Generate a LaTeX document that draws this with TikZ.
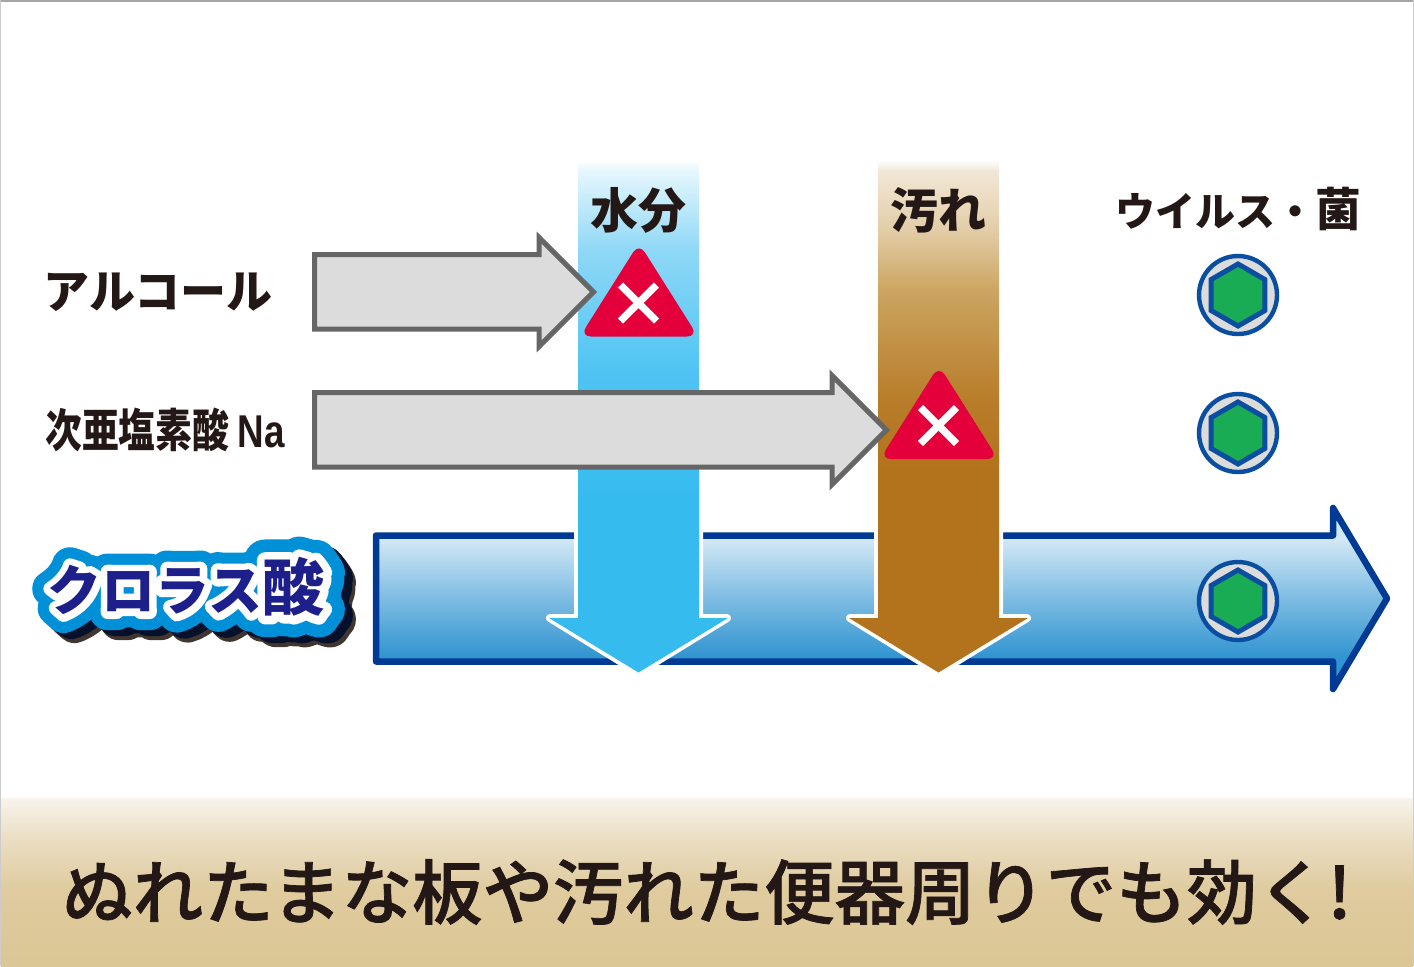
\documentclass[tikz,border=0pt]{standalone}
\usepackage{fontspec}
\usetikzlibrary{shapes.geometric}
\newfontfamily\jpfont{Noto Sans CJK JP}
\newfontfamily\jpmedium[FakeBold=1]{Noto Sans CJK JP Medium}
\newfontfamily\latinfont{Liberation Sans}
\newfontfamily\logoface{Noto Sans CJK JP Black}
\newfontfamily\logowhite[FakeBold=26]{Noto Sans CJK JP Black}
\newfontfamily\logoblue[FakeBold=67]{Noto Sans CJK JP Black}
\definecolor{inkdark}{HTML}{231815}
\definecolor{greyline}{HTML}{666666}
\definecolor{greyfill}{HTML}{DCDCDC}
\definecolor{blueline}{HTML}{003A94}
\definecolor{ringblue}{HTML}{0A4EA2}
\definecolor{hexgreen}{HTML}{19AC54}
\definecolor{markred}{HTML}{E4003A}
\definecolor{logonavy}{HTML}{1D1F8A}
\definecolor{logocyan}{HTML}{0090D8}
\definecolor{shadownavy}{HTML}{05102A}
\definecolor{shadowbrown}{HTML}{40352F}
\definecolor{watera}{HTML}{E6F7FD}
\definecolor{waterb}{HTML}{8FD8F7}
\definecolor{waterc}{HTML}{50C4F3}
\definecolor{waterd}{HTML}{36BBEF}
\definecolor{dirta}{HTML}{F2E8D8}
\definecolor{dirtb}{HTML}{E3CDA8}
\definecolor{dirtc}{HTML}{CCA561}
\definecolor{dirtd}{HTML}{B87D2A}
\definecolor{dirte}{HTML}{B3731C}
\definecolor{banda}{HTML}{F8F4EC}
\definecolor{bandb}{HTML}{EADDC2}
\definecolor{bandc}{HTML}{DFCB9E}
\definecolor{bandd}{HTML}{DBC695}
\pgfdeclareverticalshading{waterfade}{100bp}{color(0bp)=(waterd); color(41.8bp)=(waterd); color(54.5bp)=(waterc); color(66.2bp)=(waterb); color(74bp)=(watera); color(75bp)=(white); color(100bp)=(white)}
\pgfdeclareverticalshading{dirtfade}{100bp}{color(0bp)=(dirte); color(44.8bp)=(dirte); color(51.6bp)=(dirtd); color(62.3bp)=(dirtc); color(68.2bp)=(dirtb); color(74bp)=(dirta); color(75bp)=(white); color(100bp)=(white)}
\pgfdeclareverticalshading{bandfade}{100bp}{color(0bp)=(bandd); color(25bp)=(bandd); color(47.6bp)=(bandc); color(62.5bp)=(bandb); color(75bp)=(banda); color(100bp)=(banda)}
\definecolor{arrowtop}{HTML}{D2E8F5}
\definecolor{arrowmid}{HTML}{7DBCE2}
\definecolor{arrowlow}{HTML}{3094D0}
\pgfdeclareverticalshading{bluefade}{100bp}{color(0bp)=(arrowlow); color(33.6bp)=(arrowlow); color(50bp)=(arrowmid); color(66.4bp)=(arrowtop); color(100bp)=(arrowtop)}
\tikzset{
  greyarrow/.style={draw=greyline, fill=greyfill, line width=2.5pt},
  columnedge/.style={draw=white, line width=4pt, line join=round},
  redmark/.style={fill=markred, rounded corners=5.5pt},
  crossline/.style={draw=white, line width=3.6pt},
  heading/.style={font=\jpfont\bfseries\fontsize{24}{24}\selectfont, text=inkdark, inner sep=0pt},
  ringnode/.style={circle, draw=ringblue, fill=greyfill, line width=2.2pt, minimum size=39pt, inner sep=0pt},
  hexnode/.style={regular polygon, regular polygon sides=6, shape border rotate=30, draw=ringblue, fill=hexgreen, line width=2.5pt, minimum size=31pt, inner sep=0pt},
  logotext/.style={inner sep=0pt}
}
\newcommand{\logoword}[1]{#1\fontsize{27}{27}\selectfont\pgfsetroundjoin クロラス{\fontsize{31}{31}\selectfont 酸}}
\begin{document}
\begin{tikzpicture}[x=0.5pt, y=-0.5pt]
        \useasboundingbox (0,0) rectangle (1414,966);
        \draw[gray!70, line width=1.5pt] (0,0) -- (1414,0);
        \draw[gray!40, line width=1.2pt] (0,0) -- (0,966) (1414,0) -- (1414,966);

        \path[draw=blueline, line width=3.25pt, line join=round, shading=bluefade]
                (376,535.5) -- (1333,535.5) -- (1333,508) -- (1387,598.5) -- (1333,689) -- (1333,661.5) -- (376,661.5) -- cycle;

        \draw[columnedge] (578,530) -- (578,618) -- (550,618) -- (638.5,672.5) -- (727,618) -- (699,618) -- (699,530);
        \draw[columnedge] (878,530) -- (878,618) -- (850,618) -- (938.5,672.5) -- (1027,618) -- (999,618) -- (999,530);
        \path[shading=waterfade] (578,160) -- (699,160) -- (699,618) -- (728,618) -- (638.5,672.5) -- (549,618) -- (578,618) -- cycle;
        \path[shading=dirtfade] (878,160) -- (999,160) -- (999,618) -- (1028,618) -- (938.5,672.5) -- (849,618) -- (878,618) -- cycle;

        \draw[greyarrow] (314.5,254.5) -- (539,254.5) -- (539,237.5) -- (593.5,292) -- (539,346.5) -- (539,329) -- (314.5,329) -- cycle;
        \draw[greyarrow] (314.5,392.5) -- (832,392.5) -- (832,375.5) -- (886.5,430) -- (832,484.5) -- (832,467) -- (314.5,467) -- cycle;

        \path[redmark] (639,243) -- (698,336.5) -- (580,336.5) -- cycle;
        \path[redmark] (939,365.5) -- (998,459) -- (880,459) -- cycle;
        \draw[crossline] (620.5,285) -- (656.5,321) (620.5,321) -- (656.5,285);
        \draw[crossline] (920.5,407.5) -- (956.5,443.5) (920.5,443.5) -- (956.5,407.5);

        \foreach \i/\yy in {1/295, 2/433, 3/601} {
                \node[ringnode] (ring\i) at (1238,\yy) {};
                \node[hexnode] (hex\i) at (ring\i) {};
        }

        \node[heading] (water) at (638,210) {水分};
        \node[heading] (dirt) at (938,210) {汚れ};
        \node[heading, font=\jpfont\bfseries\fontsize{20}{21}\selectfont] (virus) at (1238,209) {ウイルス・{\fontsize{23}{23}\selectfont 菌}};
        \node[heading, font=\jpfont\bfseries\fontsize{23}{23}\selectfont] (alcohol) at (158,292) {アルコール};
        \node[heading, xscale=0.8, font=\jpfont\bfseries\fontsize{23}{23}\selectfont] (hypo) at (165,430) {次亜塩素酸 {\latinfont Na}};

        \node[logotext, text=shadowbrown] (shadowb) at (197,597) {\logoword\logoblue};
        \node[logotext, text=shadownavy] (shadown) at (194,593) {\logoword\logoblue};
        \node[logotext, text=logocyan] (edgeb) at (186,587) {\logoword\logoblue};
        \node[logotext, text=white] (edgew) at (186,587) {\logoword\logowhite};
        \node[logotext, text=logonavy] (logo) at (186,587) {\logoword\logoface};

        \path[shading=bandfade] (1,798) rectangle (1413,966);
        \node[heading, font=\jpmedium\fontsize{35.2}{35}\selectfont] (slogan) at (707,892) {ぬれたまな板や汚れた便器周りでも効く!};
\end{tikzpicture}
\end{document}
